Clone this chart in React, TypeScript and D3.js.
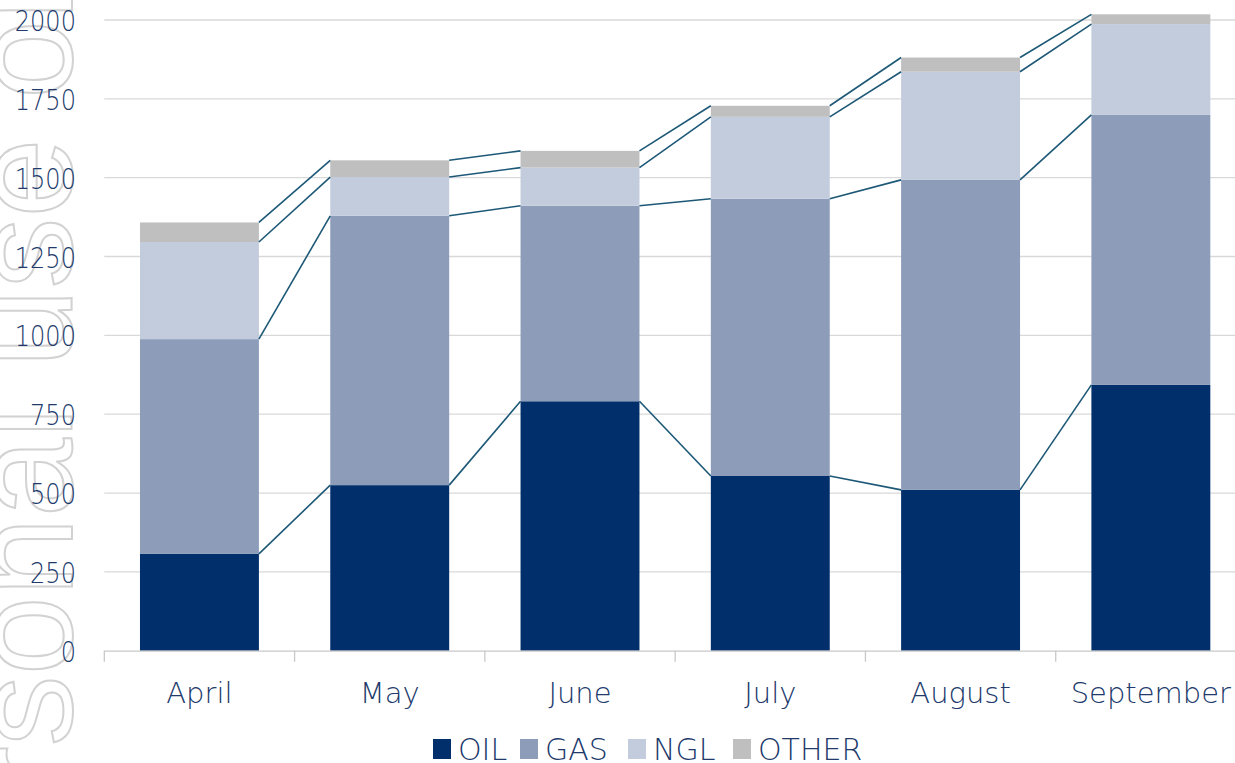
import * as d3 from 'd3'

const months = ['April', 'May', 'June', 'July', 'August', 'September']
const oil = [307, 525, 791, 554, 510, 843]
const gas = [681, 854, 620, 879, 983, 856]
const ngl = [308, 123, 121, 260, 343, 288]
const other = [62, 53, 53, 35, 45, 31]
const yTicks = [0, 250, 500, 750, 1000, 1250, 1500, 1750, 2000]

const series = [
  { key: 'OIL', values: oil, color: '#002f6c' },
  { key: 'GAS', values: gas, color: '#8c9cb9' },
  { key: 'NGL', values: ngl, color: '#c3ccdd' },
  { key: 'OTHER', values: other, color: '#bfbfbf' },
]

const W = 1235
const H = 763
const font = "'DejaVu Sans', sans-serif"
const textColor = '#21396b'

export default function App(){
  const x = d3.scaleBand<string>().domain(months).range([104.3, 1246]).paddingInner(0.375).paddingOuter(0.1875)
  const y = d3.scaleLinear().domain([0, 2000]).range([650.7, 20])

  // stacked tops per month
  const rows = months.map((m, i) => {
    const r: Record<string, number | string> = { month: m }
    series.forEach(s => { r[s.key] = s.values[i] })
    return r
  })
  const stacked = d3.stack<Record<string, number | string>>().keys(series.map(s => s.key))(rows as any)

  const bw = x.bandwidth()
  const boundaries = d3.range(months.length + 1).map(i => 104.3 + i * x.step())

  // legend layout (square, gap, label)
  const legendX = [433, 520, 628, 733]

  return (
    <svg width={W} height={H} style={{ position: 'absolute', left: 0, top: 0, background: '#fff' }}>
      {/* watermark */}
      <text transform={`translate(72,1204) rotate(-90)`} fontFamily="'Liberation Sans', Arial, sans-serif" fontSize={142}
        fill="none" stroke="#d2d2d2" strokeWidth={2}>For personal use only</text>

      {/* grid */}
      <g>
        {yTicks.filter(t => t > 0).map(t => (
          <line key={t} x1={104.3} x2={W} y1={y(t)} y2={y(t)} stroke="#d9d9d9" strokeWidth={1.3} />
        ))}
      </g>

      {/* bars */}
      {stacked.map((layer, si) => (
        <g key={layer.key} fill={series[si].color}>
          {layer.map((d, i) => (
            <rect key={i} x={x(months[i])} width={bw} y={y(d[1])} height={y(d[0]) - y(d[1])} />
          ))}
        </g>
      ))}

      {/* series lines */}
      <g stroke="#1d5877" strokeWidth={1.6} fill="none">
        {stacked.map(layer => layer.slice(0, -1).map((d, i) => (
          <line key={layer.key + i} x1={(x(months[i]) ?? 0) + bw} y1={y(d[1])} x2={x(months[i + 1])} y2={y(layer[i + 1][1])} />
        )))}
      </g>

      {/* x axis */}
      <line x1={104.3} x2={W} y1={y(0) + 0.5} y2={y(0) + 0.5} stroke="#c8c8c8" strokeWidth={1.3} />
      {boundaries.map((b, i) => (
        <line key={i} x1={b} x2={b} y1={y(0)} y2={y(0) + 11} stroke="#c8c8c8" strokeWidth={1.3} />
      ))}
      {months.map(m => (
        <text key={m} x={(x(m) ?? 0) + bw / 2} y={703} textAnchor="middle" fontFamily={font} fontWeight={200}
          fontSize={29} fill={textColor}>{m}</text>
      ))}

      {/* y axis labels */}
      <g transform="translate(76,0) scale(0.86,1)">
        {yTicks.map(t => (
          <text key={t} x={0} y={y(t) + 11} textAnchor="end" fontFamily={font} fontWeight={200}
            fontSize={28} fill={textColor}>{t}</text>
        ))}
      </g>

      {/* legend */}
      {series.map((s, i) => (
        <g key={s.key}>
          <rect x={legendX[i]} y={739} width={18} height={20} fill={s.color} />
          <text x={legendX[i] + 25} y={760} fontFamily={font} fontWeight={200} fontSize={30} fill={textColor}>{s.key}</text>
        </g>
      ))}
    </svg>
  )
}
